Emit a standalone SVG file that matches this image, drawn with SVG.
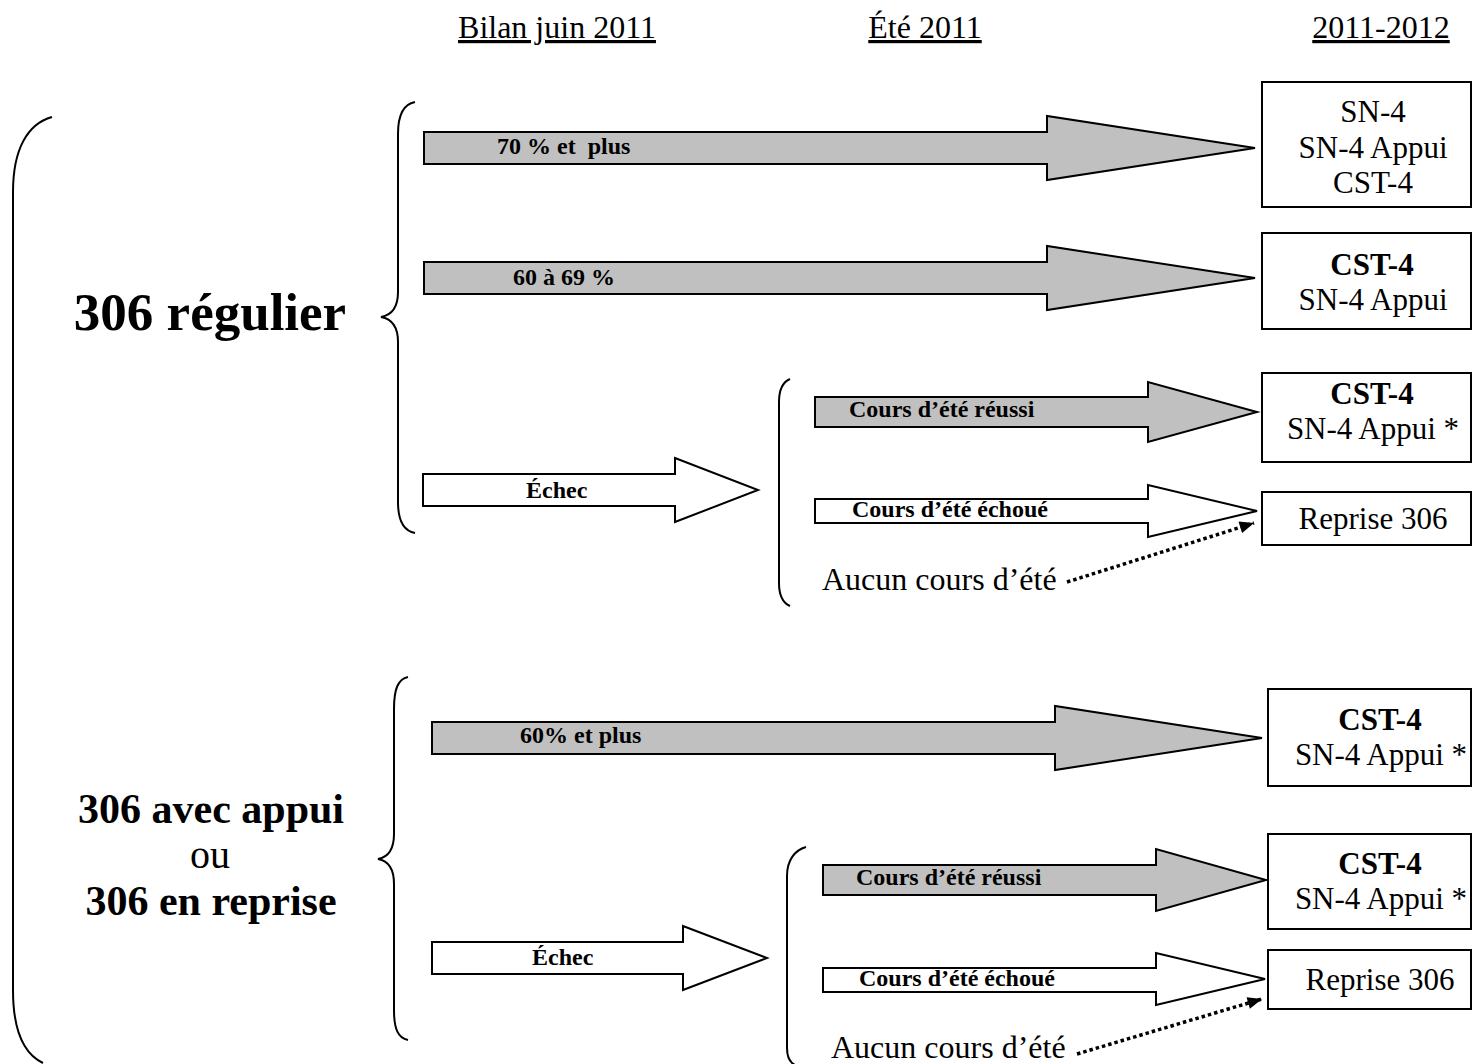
<svg xmlns="http://www.w3.org/2000/svg" width="1472" height="1064" viewBox="0 0 1472 1064">
<style>
text{font-family:"Liberation Serif","Times New Roman",serif;fill:#000}
.hdr{font-size:32px;text-decoration:underline}
.box{fill:#fff;stroke:#000;stroke-width:2}
.bt{font-size:31px;text-anchor:middle}
.b{font-weight:bold}
.lab{font-size:24px;font-weight:bold;white-space:pre}
.ga{fill:#c0c0c0;stroke:#000;stroke-width:2;stroke-linejoin:miter}
.wa{fill:#fff;stroke:#000;stroke-width:2;stroke-linejoin:miter}
.br{fill:none;stroke:#000;stroke-width:2}
.dot{fill:none;stroke:#000;stroke-width:3.5;stroke-dasharray:3.5 3}
.big{font-weight:bold;text-anchor:middle}
</style>
<defs>
<marker id="ah" viewBox="0 0 12 10" refX="12" refY="5" markerWidth="15" markerHeight="12" markerUnits="userSpaceOnUse" orient="auto"><path d="M0,0 L12,5 L0,10 z" fill="#000"/></marker>
</defs>

<g id="headers">
<text class="hdr" x="557" y="38" text-anchor="middle">Bilan juin 2011</text>
<text class="hdr" x="925" y="38" text-anchor="middle">Été 2011</text>
<text class="hdr" x="1381" y="38" text-anchor="middle">2011-2012</text>
</g>

<g id="n-regulier"><text class="big" x="210" y="330" font-size="53">306 régulier</text></g>
<g id="n-appui">
<text class="big" x="211" y="823" font-size="42">306 avec appui</text>
<text x="210" y="868" font-size="40" text-anchor="middle">ou</text>
<text class="big" x="211" y="915" font-size="42">306 en reprise</text>
</g>

<g id="box-u1"><rect class="box" x="1262" y="82" width="209" height="125"/>
<text class="bt" x="1373" y="122">SN-4</text><text class="bt" x="1373" y="158">SN-4 Appui</text><text class="bt" x="1373" y="193">CST-4</text></g>
<g id="box-u2"><rect class="box" x="1262" y="233" width="209" height="96"/>
<text class="bt b" x="1372" y="275">CST-4</text><text class="bt" x="1373" y="310">SN-4 Appui</text></g>
<g id="box-u3"><rect class="box" x="1262" y="373" width="209" height="89"/>
<text class="bt b" x="1372" y="404">CST-4</text><text class="bt" x="1373" y="439">SN-4 Appui *</text></g>
<g id="box-u4"><rect class="box" x="1262" y="492" width="209" height="53"/>
<text class="bt" x="1373" y="529">Reprise 306</text></g>
<g id="box-l1"><rect class="box" x="1268" y="689" width="203" height="97"/>
<text class="bt b" x="1380" y="730">CST-4</text><text class="bt" x="1381" y="765">SN-4 Appui *</text></g>
<g id="box-l2"><rect class="box" x="1268" y="834" width="203" height="95"/>
<text class="bt b" x="1380" y="874">CST-4</text><text class="bt" x="1381" y="909">SN-4 Appui *</text></g>
<g id="box-l3"><rect class="box" x="1268" y="950" width="203" height="59"/>
<text class="bt" x="1380" y="990">Reprise 306</text></g>

<g id="n-aucun-u"><text x="822" y="590" font-size="32">Aucun cours d’été</text></g>
<g id="n-aucun-l"><text x="831" y="1058" font-size="32">Aucun cours d’été</text></g>

<g id="connectors">
<path class="br" d="M52,117 C27,124 13,150 13,192 L13,990 C13,1030 24,1054 43,1063"/>
<path class="br" d="M415,102 C404,104 398,114 398,134 L398,292 C398,307 392,315 381,317 C392,319 398,327 398,342 L398,502 C398,521 404,531 415,533"/>
<path class="br" d="M408,677 C398,679 394,689 394,709 L394,834 C394,849 389,857 378,859 C389,861 394,869 394,884 L394,1010 C394,1029 398,1038 408,1040"/>
<path class="br" d="M790,379 C783,382 779,390 779,402 L779,583 C779,596 783,603 790,606"/>
<path class="br" d="M806,847 C795,850 787,860 787,876 L787,1048 C787,1057 789,1062 795,1065"/>

<polygon class="ga" points="424,132 1047,132 1047,116 1255,148 1047,180 1047,164 424,164"/>
<text class="lab" x="497" y="154">70 % et  plus</text>
<polygon class="ga" points="424,262 1047,262 1047,246 1255,278 1047,310 1047,294 424,294"/>
<text class="lab" x="513" y="285">60 à 69 %</text>
<polygon class="wa" points="423,474 675,474 675,458 758,490 675,522 675,506 423,506"/>
<text class="lab" x="526" y="498">Échec</text>
<polygon class="ga" points="815,397 1148,397 1148,382 1257,412 1148,442 1148,427 815,427"/>
<text class="lab" x="849" y="417">Cours d’été réussi</text>
<polygon class="wa" points="815,499 1148,499 1148,485 1257,511 1148,537 1148,523 815,523"/>
<text class="lab" x="852" y="517">Cours d’été échoué</text>
<path class="dot" d="M1067,582 L1254,523" marker-end="url(#ah)"/>

<polygon class="ga" points="432,722 1055,722 1055,706 1262,738 1055,770 1055,754 432,754"/>
<text class="lab" x="520" y="743">60% et plus</text>
<polygon class="wa" points="432,942 683,942 683,926 767,958 683,990 683,974 432,974"/>
<text class="lab" x="532" y="965">Échec</text>
<polygon class="ga" points="823,865 1156,865 1156,849 1266,880 1156,911 1156,895 823,895"/>
<text class="lab" x="856" y="885">Cours d’été réussi</text>
<polygon class="wa" points="823,968 1156,968 1156,953 1265,979 1156,1005 1156,992 823,992"/>
<text class="lab" x="859" y="986">Cours d’été échoué</text>
<path class="dot" d="M1077,1054 L1262,999" marker-end="url(#ah)"/>
</g>
</svg>
